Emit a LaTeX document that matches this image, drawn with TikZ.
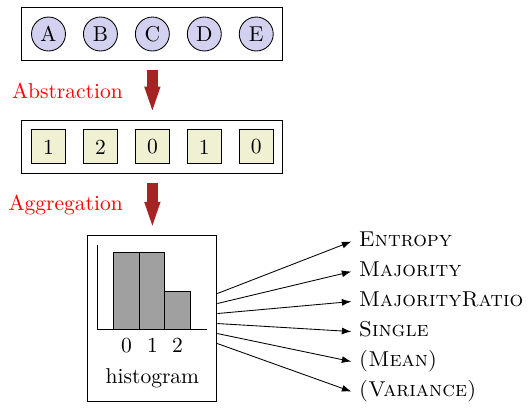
\documentclass[tikz,border=0pt]{standalone}
\usepackage{tikz}
\usetikzlibrary{arrows.meta}
\usetikzlibrary{calc,fit,positioning}

\definecolor{arrowred}{RGB}{165,35,35}
\definecolor{entityfill}{RGB}{210,210,240}
\definecolor{cellfill}{RGB}{240,240,210}
\definecolor{bargray}{RGB}{160,160,160}

\begin{document}
\begin{tikzpicture}[x=0.465pt, y=-0.465pt,
    entity/.style={circle, draw=black, fill=entityfill, minimum size=15.8pt, inner sep=0pt},
    cell/.style={rectangle, draw=black, fill=cellfill, minimum size=15.8pt, inner sep=0pt},
    bigarrow/.style={draw=arrowred, line width=5.1pt,
    -{Triangle[length=11pt, width=7.6pt, line width=0pt]}, shorten <=4pt, shorten >=4.4pt},
    steplabel/.style={text=red, left=7.9pt},
    measure/.style={anchor=west, text height=7pt, text depth=2pt}]
    \useasboundingbox (0,0) rectangle (529,407);

    % entities
    \node (a) [entity] at (48.5,34) {A};
    \node (b) [entity, right=7.95pt of a] {B};
    \node (c) [entity, right=7.95pt of b] {C};
    \node (d) [entity, right=7.95pt of c] {D};
    \node (e) [entity, right=7.95pt of d] {E};
    \node (objects) [draw, inner sep=4.3pt, fit=(a)(e)] {};

    % abstracted values
    \node (va) [cell, below=36.3pt of a] {1};
    \node (vb) [cell, right=7.95pt of va] {2};
    \node (vc) [cell, right=7.95pt of vb] {0};
    \node (vd) [cell, right=7.95pt of vc] {1};
    \node (ve) [cell, right=7.95pt of vd] {0};
    \node (values) [draw, inner sep=4.3pt, fit=(va)(ve)] {};

    \node (hist) [draw, minimum width=60pt, minimum height=77.2pt, below=28.4pt of values] {};

    \draw [bigarrow] (objects) -- (values) node [midway, steplabel] (abstr) {Abstraction};
    \draw [bigarrow] (values) -- (hist) node [midway, steplabel] (aggr) {Aggregation};

    % histogram
    \begin{scope}[shift={(hist.north west)}]
        \draw [fill=bargray] (26,17) rectangle (52,94);
        \draw [fill=bargray] (52,17) rectangle (77,94);
        \draw [fill=bargray] (77,56) rectangle (103,94);
        \draw (10,10) -- (10,94) -- (120,94);
        \node (l0) at (39,110) {0};
        \node (l1) at (65,110) {1};
        \node (l2) at (90,110) {2};
        \node (histlabel) at (65,143) {histogram};
    \end{scope}

    % measures
    \foreach \name/\label [count=\i from 0] in {entropy/Entropy, majority/Majority,
        ratio/MajorityRatio, single/Single, mean/{(Mean)}, variance/{(Variance)}}
    {
        \node (\name) [measure] at ($(hist.east)+(134,-77+30*\i)$) {\textsc{\label}};
        \draw [-{Latex[length=4.4pt, width=3.2pt]}] ($(hist.east)+(0,-25+10*\i)$) -- (\name.west);
    }
\end{tikzpicture}
\end{document}
